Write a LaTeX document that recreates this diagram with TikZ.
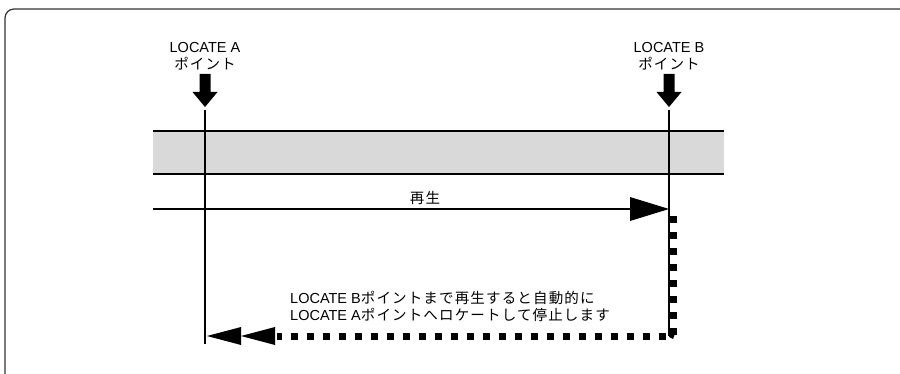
\documentclass[tikz,border=0pt]{standalone}
\usepackage{fontspec}
\setmainfont{Liberation Sans}
\newfontfamily\jp[LetterSpace=8]{Noto Sans CJK JP}
\begin{document}
\begin{tikzpicture}[x=1pt,y=-1pt,
  lbl/.style={font=\fontsize{14.5}{17}\selectfont, inner sep=0pt, align=center},
  vline/.style={line width=1.3pt},
  dots/.style={line width=7pt, dash pattern=on 7pt off 9pt},
  blockarrow/.style={fill=black}]
\useasboundingbox (0,0) rectangle (900,374);
\draw[line width=1.2pt, draw=black!80, rounded corners=9pt] (5,9) rectangle (910,384);
% band
\fill[black!15] (153,131) rectangle (724,174);
\draw[vline] (153,131) -- (724,131);
\draw[vline] (153,174) -- (724,174);
% labels
\node[lbl] (la) at (205,56) {LOCATE A\\{\jp ポイント}};
\node[lbl] (lb) at (669,56) {LOCATE B\\{\jp ポイント}};
% block arrows
\fill[blockarrow] (199.5,74) -- (210.5,74) -- (210.5,92) -- (217.5,92) -- (205,107) -- (192.5,92) -- (199.5,92) -- cycle;
\fill[blockarrow] (663.5,74) -- (674.5,74) -- (674.5,92) -- (681.5,92) -- (669,107) -- (656.5,92) -- (663.5,92) -- cycle;
% vertical lines
\coordinate (a1) at (205,110);
\coordinate (a2) at (205,344);
\coordinate (b1) at (669,110);
\coordinate (b2) at (669,336);
\draw[vline] (a1) -- (a2);
\draw[vline] (b1) -- (b2);
% play arrow
\coordinate (p1) at (153,209);
\coordinate (p2) at (630,209);
\coordinate (pt) at (669,209);
\draw[line width=2.6pt] (p1) -- (p2);
\fill (630,197) -- (pt) -- (630,221) -- cycle;
\node[lbl] (play) at (425,198) {\jp 再生};
% dotted return
\coordinate (d1) at (673.5,216);
\coordinate (d2) at (673.5,336);
\coordinate (d3) at (277,336);
\draw[dots] (d1) -- (d2) -- (d3);
\fill (669,331) -- (676,331) -- (673,339) -- (669,337) -- cycle;
% return arrowheads
\fill (207,336) -- (241,327) -- (241,345) -- cycle;
\fill (241,336) -- (275,327) -- (275,345) -- cycle;
% text
\node[lbl, anchor=west, align=left] (txt) at (290,306) {LOCATE B{\jp ポイントまで再生すると自動的に}\\LOCATE A{\jp ポイントへロケートして停止します}};
\end{tikzpicture}
\end{document}
